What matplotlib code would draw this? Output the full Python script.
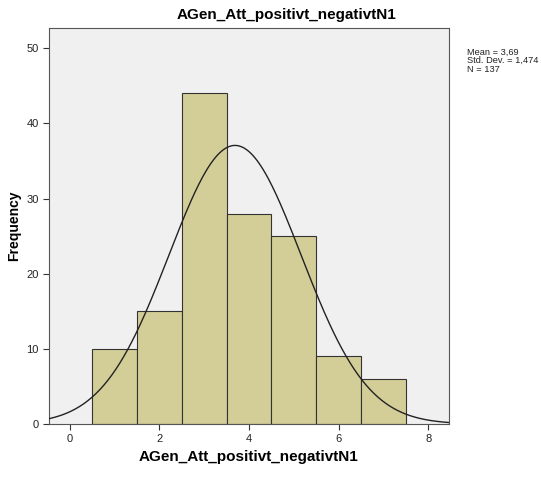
import numpy as np
import matplotlib.pyplot as plt

# histogram data
centers = [1, 2, 3, 4, 5, 6, 7]
counts = [10, 15, 44, 28, 25, 9, 6]
mean, sd, n = 3.69, 1.474, 137
title = 'AGen_Att_positivt_negativtN1'

plt.rcParams['font.family'] = ['Liberation Sans', 'DejaVu Sans']

fig = plt.figure(figsize=(5.41, 4.84), dpi=100)
ax = fig.add_axes([0.0906, 0.124, 0.739, 0.818])
ax.set_facecolor('#f0f0f0')

ax.bar(centers, counts, width=1.0, color='#d3ce97', edgecolor='#333333', linewidth=0.8, zorder=2)

# normal curve scaled to counts (bin width 1)
xs = np.linspace(-0.46, 8.46, 300)
ys = n / (sd * np.sqrt(2 * np.pi)) * np.exp(-0.5 * ((xs - mean) / sd) ** 2)
ax.plot(xs, ys, color='#222222', linewidth=1.0, zorder=3)

ax.set_xlim(-0.46, 8.46)
ax.set_ylim(0, 52.7)
ax.set_xticks([0, 2, 4, 6, 8])
ax.set_yticks([0, 10, 20, 30, 40, 50])
ax.tick_params(labelsize=8, length=4, color='#333333', labelcolor='#222222')
for s in ax.spines.values():
    s.set_color('#555555')
    s.set_linewidth(0.8)

ax.set_xlabel(title, fontsize=11, fontweight='bold', labelpad=4)
ax.set_ylabel('Frequency', fontsize=10, fontweight='bold', labelpad=4)
fig.text(0.529, 0.968, title, fontsize=11, fontweight='bold', ha='center', va='center')

fig.text(0.863, 0.902, 'Mean = 3,69\nStd. Dev. = 1,474\nN = 137', fontsize=6.7,
         va='top', ha='left', linespacing=0.95, color='#222222')

fig.savefig('out.png', dpi=100)
